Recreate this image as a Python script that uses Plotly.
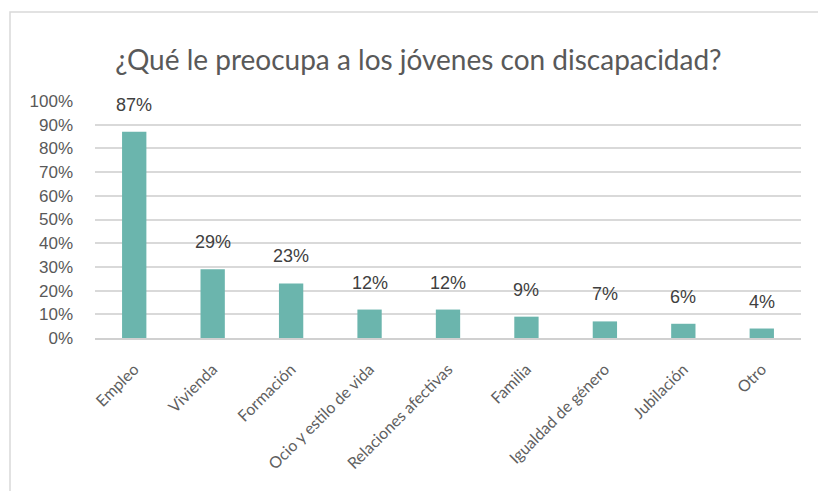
import plotly.graph_objects as go

categories = ["Empleo", "Vivienda", "Formación", "Ocio y estilo de vida",
              "Relaciones afectivas", "Familia", "Igualdad de género",
              "Jubilación", "Otro"]
values = [87, 29, 23, 12, 12, 9, 7, 6, 4]
labels = ["87%", "29%", "23%", "12%", "12%", "9%", "7%", "6%", "4%"]
y_ticks = [0, 10, 20, 30, 40, 50, 60, 70, 80, 90, 100]
y_tick_labels = [f"{v}%" for v in y_ticks]
title_text = "¿Qué le preocupa a los jóvenes con discapacidad?"

W, H = 818, 491
ml, mr, mt, mb = 95, 17, 101, 153
pw, ph = W - ml - mr, H - mt - mb

fig = go.Figure()
fig.add_trace(go.Bar(
    x=categories, y=values,
    marker=dict(color="#6BB5AD", line=dict(width=0)),
    hoverinfo="skip",
))

for c, v, t in zip(categories, values, labels):
    fig.add_annotation(
        x=c, y=v, text=t, showarrow=False,
        yanchor="bottom", yshift=15,
        font=dict(family="Liberation Sans, Arial", size=18, color="#404040"),
    )

# chart border
bx0 = (10 - ml) / pw
by1 = 1 + (mt - 12) / ph
fig.add_shape(type="rect", xref="paper", yref="paper",
              x0=bx0, x1=(830 - ml) / pw, y0=-(mb + 20) / ph, y1=by1,
              line=dict(color="#D9D9D9", width=1.5), fillcolor="rgba(0,0,0,0)",
              layer="below")

fig.update_layout(
    width=W, height=H,
    margin=dict(l=ml, r=mr, t=mt, b=mb),
    paper_bgcolor="white", plot_bgcolor="white",
    bargap=0.69,
    showlegend=False,
    title=dict(text=title_text, x=(115 + 722) / 2 / W, xanchor="center",
               y=1 - 60 / H, yanchor="middle", yref="container",
               font=dict(family="Lato, Calibri", size=28, color="#595959")),
    xaxis=dict(
        tickangle=-45,
        tickfont=dict(family="Lato, Calibri", size=16, color="#606060"),
        showgrid=False, showline=True, linecolor="#D0D0D0", linewidth=1.5,
        ticks="", fixedrange=True, ticklabelstandoff=14,
    ),
    yaxis=dict(
        range=[0, 100], tickvals=y_ticks, ticktext=y_tick_labels,
        tickfont=dict(family="Liberation Sans, Arial", size=17, color="#595959"),
        showgrid=True, gridcolor="#D9D9D9", gridwidth=1.5,
        zeroline=False, showline=False, ticks="",
        ticklabelstandoff=21, fixedrange=True,
    ),
)

fig.write_html("out.html", config={"displayModeBar": False},
               post_script="document.body.style.margin='0';")
